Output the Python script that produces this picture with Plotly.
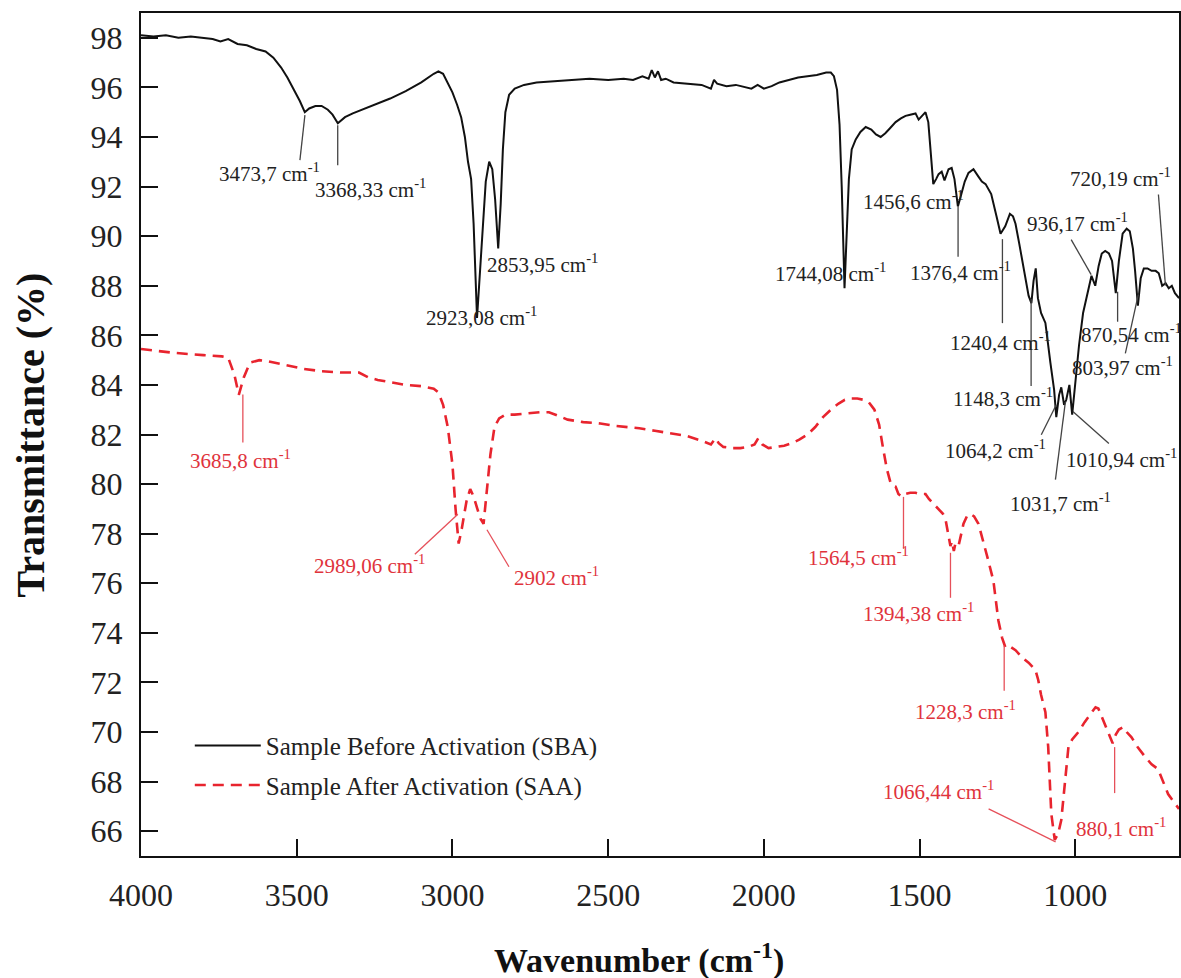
import plotly.graph_objects as go
import numpy as np

# ---------------- data ----------------
wn_sba = [4000, 3960, 3920, 3880, 3840, 3800, 3770, 3745, 3720, 3690, 3660, 3630, 3600, 3575, 3550,
          3530, 3510, 3490, 3474, 3460, 3440, 3420, 3400, 3385, 3368, 3345, 3320, 3290, 3260, 3200,
          3150, 3100, 3060, 3045, 3030, 3015, 3000, 2985, 2972, 2960, 2950, 2940, 2932, 2921, 2912,
          2903, 2893, 2882, 2872, 2863, 2853, 2845, 2838, 2830, 2818, 2800, 2770, 2730, 2680, 2620,
          2560, 2500, 2450, 2420, 2390, 2370, 2360, 2350, 2340, 2330, 2315, 2290, 2250, 2200, 2170,
          2160, 2150, 2120, 2090, 2060, 2040, 2020, 2000, 1975, 1950, 1920, 1890, 1860, 1830, 1800,
          1785, 1775, 1765, 1757, 1750, 1741, 1733, 1727, 1718, 1705, 1690, 1673, 1655, 1640, 1625,
          1610, 1595, 1577, 1560, 1545, 1530, 1513, 1503, 1492, 1481, 1472, 1465, 1456, 1447, 1439,
          1429, 1420, 1407, 1397, 1388, 1377, 1368, 1355, 1343, 1327, 1311, 1300, 1288, 1270, 1253,
          1240, 1225, 1210, 1200, 1192, 1180, 1165, 1150, 1141, 1134, 1127, 1120, 1110, 1096, 1080,
          1068, 1061, 1052, 1045, 1036, 1029, 1019, 1010, 1000, 988, 975, 960, 948, 936, 925,
          915, 904, 892, 882, 870, 860, 848, 835, 825, 815, 808, 799, 790, 780, 768,
          755, 742, 732, 721, 710, 700, 690, 680, 667]
t_sba = [98.1, 98.05, 98.1, 98.0, 98.05, 98.0, 97.95, 97.85, 97.95, 97.75, 97.7, 97.55, 97.45, 97.2, 96.8,
         96.4, 95.95, 95.45, 95.0, 95.15, 95.25, 95.25, 95.1, 94.9, 94.55, 94.8, 94.95, 95.1, 95.25, 95.55,
         95.85, 96.2, 96.55, 96.65, 96.55, 96.2, 95.8, 95.3, 94.8, 94.0, 93.0, 92.3, 90.5, 86.7, 88.6,
         90.6, 92.2, 93.0, 92.7, 91.5, 89.5, 91.3, 93.5, 95.0, 95.7, 95.95, 96.1, 96.2, 96.25, 96.3,
         96.35, 96.3, 96.35, 96.3, 96.45, 96.35, 96.7, 96.4, 96.65, 96.3, 96.35, 96.2, 96.15, 96.1, 95.95,
         96.3, 96.15, 96.05, 96.1, 96.0, 95.95, 96.1, 95.95, 96.05, 96.2, 96.3, 96.4, 96.45, 96.5, 96.6,
         96.6, 96.45, 95.9, 94.5, 92.0, 87.9, 90.5, 92.3, 93.5, 93.9, 94.2, 94.4, 94.3, 94.1, 94.0,
         94.15, 94.35, 94.6, 94.75, 94.85, 94.9, 94.95, 94.7, 94.85, 95.0, 94.6, 93.6, 92.1, 92.3, 92.5,
         92.6, 92.25, 92.7, 92.75, 92.3, 91.2, 91.6, 92.2, 92.55, 92.7, 92.4, 92.2, 92.1, 91.7, 90.8,
         90.1, 90.4, 90.9, 90.8, 90.5, 89.7, 88.6, 87.6, 87.3, 88.2, 88.7, 87.5, 86.9, 86.5, 84.9,
         83.8, 82.7, 83.6, 83.9, 83.2, 83.4, 84.0, 82.8, 84.2, 85.6, 86.9, 87.8, 88.4, 88.0, 88.8,
         89.3, 89.4, 89.3, 89.0, 87.7, 89.0, 90.1, 90.3, 90.2, 89.5, 88.6, 87.2, 88.3, 88.7, 88.7,
         88.6, 88.6, 88.5, 88.0, 88.1, 87.9, 88.0, 87.7, 87.5]

wn_saa = [4000, 3900, 3800, 3740, 3720, 3700, 3686, 3670, 3650, 3620, 3590, 3540, 3480, 3420, 3360,
          3300, 3270, 3240, 3200, 3150, 3100, 3060, 3045, 3030, 3015, 3000, 2990, 2980, 2970, 2955,
          2943, 2932, 2920, 2910, 2900, 2890, 2878, 2865, 2850, 2830, 2800, 2760, 2720, 2690, 2660,
          2630, 2580, 2530, 2480, 2430, 2400, 2350, 2300, 2250, 2200, 2170, 2155, 2145, 2130, 2100,
          2075, 2050, 2030, 2018, 2005, 1985, 1960, 1935, 1910, 1885, 1860, 1835, 1810, 1785, 1760,
          1740, 1720, 1700, 1680, 1663, 1645, 1630, 1618, 1605, 1592, 1577, 1568, 1558, 1545, 1530,
          1513, 1500, 1481, 1470, 1455, 1439, 1425, 1417, 1407, 1401, 1396, 1390, 1385, 1375, 1359,
          1348, 1337, 1325, 1311, 1295, 1279, 1263, 1247, 1235, 1224, 1210, 1192, 1170, 1150, 1128,
          1119, 1110, 1096, 1087, 1077, 1066, 1055, 1045, 1032, 1022, 1010, 990, 970, 950, 935,
          926, 915, 905, 894, 880, 870, 860, 846, 835, 820, 800, 776, 755, 734, 718,
          702, 685, 667]
t_saa = [85.45, 85.3, 85.2, 85.15, 85.1, 84.4, 83.6, 84.3, 84.9, 85.0, 84.95, 84.8, 84.65, 84.55, 84.5,
         84.5, 84.3, 84.2, 84.1, 84.0, 83.95, 83.85, 83.7, 83.2, 82.3, 80.8, 79.0, 77.6, 78.2, 79.3,
         79.8, 79.5, 79.0, 78.6, 78.4, 79.6, 81.2, 82.3, 82.65, 82.8, 82.8, 82.85, 82.9, 82.9, 82.75,
         82.6, 82.5, 82.45, 82.35, 82.3, 82.25, 82.15, 82.05, 81.95, 81.75, 81.6, 81.85, 81.65, 81.5, 81.45,
         81.45, 81.5, 81.6, 81.85, 81.6, 81.45, 81.5, 81.55, 81.65, 81.8, 82.0, 82.3, 82.7, 83.0, 83.25,
         83.4, 83.45, 83.45, 83.4, 83.3, 83.0, 82.4, 81.5, 80.6, 80.0, 79.9, 79.6, 79.5, 79.6, 79.65,
         79.65, 79.6, 79.6, 79.4, 79.2, 79.0, 78.8, 78.6, 77.9, 77.5, 77.7, 77.3, 77.6, 77.5, 78.4,
         78.7, 78.8, 78.7, 78.4, 77.7, 76.9, 76.1, 74.5, 73.8, 73.4, 73.45, 73.3, 73.0, 72.8, 72.5,
         72.1, 71.5, 70.8, 69.4, 66.7, 65.65, 65.9, 66.45, 68.1, 69.4, 69.7, 70.0, 70.4, 70.75, 71.0,
         70.95, 70.6, 70.3, 70.0, 69.55, 69.9, 70.1, 70.2, 70.0, 69.8, 69.4, 69.0, 68.7, 68.5, 68.0,
         67.5, 67.2, 66.9]

y_ticks = list(range(66, 100, 2))
x_ticks = [4000, 3500, 3000, 2500, 2000, 1500, 1000]

# peak labels: wavenumber, text
sba_peaks = [3473.7, 3368.33, 2923.08, 2853.95, 1744.08, 1456.6, 1376.4, 1240.4, 1148.3,
             1064.2, 1031.7, 1010.94, 803.97, 870.54, 936.17, 720.19]
sba_texts = ["3473,7", "3368,33", "2923,08", "2853,95", "1744,08", "1456,6", "1376,4", "1240,4",
             "1148,3", "1064,2", "1031,7", "1010,94", "803,97", "870,54", "936,17", "720,19"]
saa_peaks = [3685.8, 2989.06, 2902, 1564.5, 1394.38, 1228.3, 1066.44, 880.1]
saa_texts = ["3685,8", "2989,06", "2902", "1564,5", "1394,38", "1228,3", "1066,44", "880,1"]

# ---------------- styling / placement (pixels relative to the peak point; +down) ----------------
# (text dx, text dy, leader (x0, y0, x1, y1)) ; None => no leader line
sba_place = [(-88, 60, (0, 3, -5, 48)), (-25, 65, (0, 2, 0, 42)), (-52, 16, None), (-13, 20, None),
             (-71, 19, None), (-72, 19, None), (-50, 66, (0, 1, 0, 51)), (-52, 108, (2, 6, 2, 90)),
             (-78, 100, (2, 2, 2, 89)), (-112, 45, (1, 0, -14, 30)), (-57, 101, (0, 0, -10, 78)),
             (-8, 47, (1, 0, 37, 32)), (-66, 80, (2, 8, -11, 67)), (-37, 42, (2, 0, 2, 30)),
             (-70, -63, (-4, -11, -24, -46)), (-94, -108, (3, 0, -4, -91))]
saa_place = [(-51, 65, (4, 0, 4, 48)), (-144, 52, (2, 2, -41, 42)), (29, 54, (4, 7, 26, 44)),
             (-93, 62, (4, 2, 4, 54)), (-91, 69, (-2, 9, -2, 54)), (-91, 67, (0, 2, 0, 47)),
             (-174, -48, (1, 3, -66, -30)), (-39, 84, (2, 4, 2, 50))]

BLACK = "#111111"
RED = "#e8242e"
RED_TXT = "#e0333c"
FONT = "Liberation Serif"

fig = go.Figure()
fig.add_trace(go.Scatter(x=wn_sba, y=t_sba, mode="lines", name="Sample Before Activation (SBA)",
                         legendgroup="a", line=dict(color=BLACK, width=2)))
fig.add_trace(go.Scatter(x=wn_saa, y=t_saa, mode="lines", name="Sample After Activation (SAA)",
                         legendgroup="b", line=dict(color=RED, width=2.6, dash="11px,7px")))

annotations = []
shapes = []


def add_labels(peaks, texts, places, wn, t, color_txt, color_line):
    order = np.argsort(wn)
    wn_a = np.asarray(wn, float)[order]
    t_a = np.asarray(t, float)[order]
    for pk, tx, (dx, dy, ld) in zip(peaks, texts, places):
        yv = float(np.interp(pk, wn_a, t_a))
        annotations.append(dict(x=pk, y=yv, xref="x", yref="y", text=tx + " cm<sup>-1</sup>",
                                showarrow=False, xanchor="left", yanchor="middle",
                                xshift=dx, yshift=-dy,
                                font=dict(family=FONT, size=21, color=color_txt)))
        if ld is not None:
            x0, y0, x1, y1 = ld
            shapes.append(dict(type="line", xref="x", yref="y", xsizemode="pixel", ysizemode="pixel",
                               xanchor=pk, yanchor=yv, x0=x0, x1=x1, y0=-y0, y1=-y1,
                               line=dict(color=color_line, width=1.3)))


add_labels(sba_peaks, sba_texts, sba_place, wn_sba, t_sba, "#222222", "#444444")
add_labels(saa_peaks, saa_texts, saa_place, wn_saa, t_saa, RED_TXT, "#e6505a")

# axis titles
annotations.append(dict(xref="paper", yref="paper", x=0.48, y=-0.121, showarrow=False,
                        text="<b>Wavenumber (cm<sup>-1</sup>)</b>", xanchor="center", yanchor="middle",
                        font=dict(family=FONT, size=34, color="#111111")))
annotations.append(dict(xref="paper", yref="paper", x=-0.106, y=0.5, showarrow=False, textangle=-90,
                        text="<b>Transmittance (%)</b>", xanchor="center", yanchor="middle",
                        font=dict(family=FONT, size=40, color="#111111")))

axis_common = dict(showgrid=False, zeroline=False, showline=True, linecolor="#111111", linewidth=2,
                   mirror=True, ticks="inside", ticklen=17, tickwidth=2, tickcolor="#111111",
                   tickfont=dict(family=FONT, size=32, color="#222222"))

fig.update_layout(
    width=1181, height=978,
    margin=dict(l=141, r=0, t=13, b=122),
    paper_bgcolor="white", plot_bgcolor="white",
    xaxis=dict(range=[4000, 667], tickvals=x_ticks, ticklabelstandoff=10, **axis_common),
    yaxis=dict(range=[65, 99], tickvals=y_ticks, ticklabelstandoff=10, **axis_common),
    legend=dict(x=0.047, y=0.158, xanchor="left", yanchor="top", bgcolor="rgba(0,0,0,0)",
                font=dict(family=FONT, size=25, color="#222222"), tracegroupgap=4, itemwidth=66),
    showlegend=True,
    annotations=annotations,
    shapes=shapes,
)

fig.write_html("out.html")
